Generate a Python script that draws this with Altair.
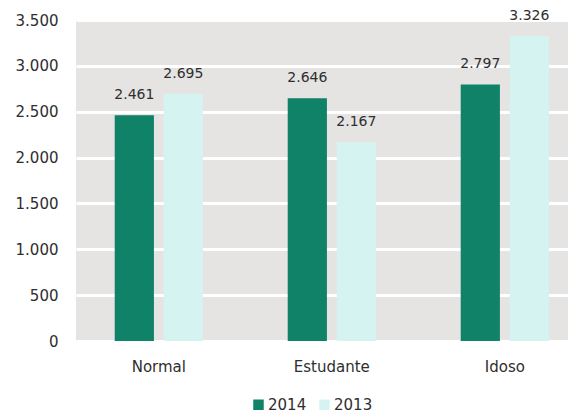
import altair as alt
import pandas as pd

categories = ["Normal", "Estudante", "Idoso"]
years = ["2014", "2013"]
values_2014 = [2461, 2646, 2797]
values_2013 = [2695, 2167, 3326]
y_ticks = [0, 500, 1000, 1500, 2000, 2500, 3000, 3500]

rows = []
for c, v14, v13 in zip(categories, values_2014, values_2013):
    rows.append({"cat": c, "year": "2014", "value": v14})
    rows.append({"cat": c, "year": "2013", "value": v13})
df = pd.DataFrame(rows)

FONT = "DejaVu Sans"
TXT = "#2e2e2e"

x = alt.X("cat:N", sort=categories, title=None,
          scale=alt.Scale(paddingInner=0.49, paddingOuter=0.167, align=0.67),
          axis=alt.Axis(labelAngle=0, ticks=False, domain=False, labelFontSize=15,
                        labelFont=FONT, labelColor=TXT, labelPadding=18, grid=False))
xo = alt.XOffset("year:N", sort=years, scale=alt.Scale(paddingInner=0.2))
y = alt.Y("value:Q", title=None,
          scale=alt.Scale(domain=[0, 3500], nice=False),
          axis=alt.Axis(values=y_ticks, format=",d", ticks=False, domain=False,
                        labelFontSize=15, labelFont=FONT, labelColor=TXT,
                        labelPadding=18, gridColor="white", gridWidth=3,
                        gridOpacity=1))
color = alt.Color("year:N", sort=years,
                  scale=alt.Scale(domain=years, range=["#0f8267", "#d5f4f1"]),
                  legend=alt.Legend(title=None, orient="none", direction="horizontal",
                                    legendX=175, legendY=377, symbolType="square",
                                    symbolSize=110, labelFontSize=15, labelFont=FONT,
                                    labelColor=TXT, columnPadding=10, labelOffset=2,
                                    symbolStrokeWidth=0))

base = alt.Chart(df)
bars = base.mark_bar().encode(x=x, xOffset=xo, y=y, color=color)
labels = base.mark_text(baseline="bottom", dy=-13, fontSize=14, font=FONT,
                        color=TXT).encode(
    x=x, xOffset=xo, y=y, text=alt.Text("value:Q", format=",d"))

chart = (bars + labels).properties(
    width=492, height=321,
    autosize=alt.AutoSizeParams(type="none"),
    padding={"left": 68, "top": 12, "right": 0, "bottom": 72},
).configure(
    locale=alt.Locale(number=alt.NumberLocale(decimal=",", thousands=".",
                                              grouping=[3], currency=["R$", ""])),
).configure_view(fill="#e5e4e2", stroke=None)

chart.save("out.html", embed_options={"renderer": "svg", "actions": False})
